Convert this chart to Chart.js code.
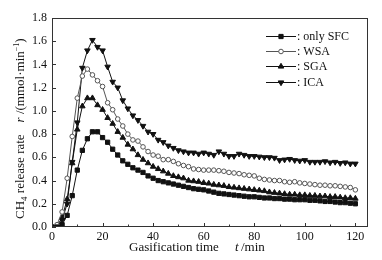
<!DOCTYPE html>
<html lang="en">
<head>
<meta charset="UTF-8" />
<title>CH4 release rate</title>
<script src="https://cdn.jsdelivr.net/npm/chart.js"></script>
<style>
  body { margin: 0; background: #fff; }
  .chart-box { width: 382px; height: 260px; }
</style>
</head>
<body>
<div class="chart-box"><canvas id="myChart"></canvas></div>
<script>
// gasification time (min)
const timeList = [0, 2, 4, 6, 8, 10, 12, 14, 16, 18, 20, 22, 24, 26, 28, 30, 32, 34, 36, 38,
  40, 42, 44, 46, 48, 50, 52, 54, 56, 58, 60, 62, 64, 66, 68, 70, 72, 74, 76, 78,
  80, 82, 84, 86, 88, 90, 92, 94, 96, 98, 100, 102, 104, 106, 108, 110, 112, 114, 116, 118, 120];

const sfcList = [0.0, 0.0, 0.02, 0.10, 0.27, 0.49, 0.66, 0.76, 0.82, 0.82,
  0.77, 0.73, 0.67, 0.62, 0.57, 0.54, 0.51, 0.49, 0.47, 0.44,
  0.42, 0.40, 0.39, 0.38, 0.37, 0.36, 0.35, 0.34, 0.33, 0.325,
  0.32, 0.31, 0.30, 0.29, 0.285, 0.28, 0.275, 0.27, 0.265, 0.26,
  0.26, 0.255, 0.25, 0.25, 0.245, 0.245, 0.24, 0.24, 0.235, 0.235,
  0.235, 0.23, 0.23, 0.225, 0.22, 0.22, 0.215, 0.21, 0.21, 0.205, 0.20];

const wsaList = [0.0, 0.02, 0.13, 0.42, 0.78, 1.11, 1.30, 1.36, 1.31, 1.26,
  1.21, 1.07, 1.01, 0.93, 0.87, 0.80, 0.75, 0.74, 0.69, 0.65,
  0.62, 0.61, 0.58, 0.58, 0.565, 0.545, 0.53, 0.52, 0.50, 0.495,
  0.49, 0.49, 0.49, 0.485, 0.48, 0.47, 0.465, 0.46, 0.45, 0.445,
  0.44, 0.42, 0.41, 0.405, 0.40, 0.40, 0.39, 0.385, 0.39, 0.38,
  0.375, 0.37, 0.365, 0.36, 0.36, 0.355, 0.355, 0.35, 0.345, 0.34, 0.32];

const sgaList = [0.0, 0.01, 0.08, 0.24, 0.55, 0.84, 1.04, 1.11, 1.11, 1.05,
  1.01, 0.94, 0.89, 0.82, 0.77, 0.71, 0.67, 0.62, 0.58, 0.55,
  0.52, 0.50, 0.48, 0.46, 0.44, 0.43, 0.42, 0.40, 0.395, 0.39,
  0.38, 0.375, 0.365, 0.36, 0.355, 0.345, 0.34, 0.335, 0.33, 0.325,
  0.32, 0.315, 0.31, 0.30, 0.295, 0.29, 0.285, 0.28, 0.28, 0.275,
  0.275, 0.27, 0.27, 0.265, 0.265, 0.26, 0.26, 0.255, 0.25, 0.25, 0.245];

const icaList = [0.0, 0.0, 0.06, 0.20, 0.56, 0.90, 1.37, 1.52, 1.61, 1.55,
  1.52, 1.38, 1.25, 1.20, 1.09, 1.02, 0.96, 0.92, 0.87, 0.82,
  0.80, 0.75, 0.73, 0.70, 0.68, 0.66, 0.65, 0.64, 0.64, 0.63,
  0.64, 0.63, 0.62, 0.65, 0.63, 0.61, 0.61, 0.63, 0.62, 0.61,
  0.61, 0.605, 0.60, 0.60, 0.595, 0.575, 0.58, 0.585, 0.575, 0.57,
  0.575, 0.56, 0.56, 0.56, 0.565, 0.555, 0.56, 0.55, 0.555, 0.545, 0.545];

const seriesNames = ["only SFC", "WSA", "SGA", "ICA"];
const xTickList = [0, 10, 20, 30, 40, 50, 60, 70, 80, 90, 100, 110, 120];
const yTickList = [0, 0.2, 0.4, 0.6, 0.8, 1.0, 1.2, 1.4, 1.6, 1.8];

const serif = "'Liberation Serif', 'DejaVu Serif', serif";

const toPoints = function (vals) {
  return vals.map(function (v, i) { return { x: timeList[i], y: v }; });
};

const makeSet = function (name, vals, style, radius, rot, fill, line) {
  return {
    label: name,
    data: toPoints(vals),
    borderColor: line,
    borderWidth: 1,
    backgroundColor: fill,
    pointStyle: style,
    pointRadius: radius,
    pointRotation: rot,
    pointBorderColor: line,
    pointBorderWidth: 1,
    pointBackgroundColor: fill,
    tension: 0,
  };
};

// frame, inward ticks, axis titles and legend
const decor = {
  id: "decor",
  afterDraw(chart) {
    const ctx = chart.ctx;
    const a = chart.chartArea;
    const xs = chart.scales.x;
    const ys = chart.scales.y;
    ctx.save();
    ctx.strokeStyle = "#333";
    ctx.lineWidth = 1;
    ctx.strokeRect(Math.round(a.left) + 0.5, Math.round(a.top) + 0.5,
      Math.round(a.right - a.left) - 1, Math.round(a.bottom - a.top) - 1);
    ctx.beginPath();
    xTickList.forEach(function (v) {
      const px = Math.round(xs.getPixelForValue(v)) + 0.5;
      const len = v % 20 === 0 ? 4 : 2.5;
      ctx.moveTo(px, a.bottom);
      ctx.lineTo(px, a.bottom - len);
    });
    yTickList.forEach(function (v) {
      const py = Math.round(ys.getPixelForValue(v)) + 0.5;
      ctx.moveTo(a.left, py);
      ctx.lineTo(a.left + 4, py);
    });
    ctx.stroke();

    ctx.fillStyle = "#111";
    ctx.textBaseline = "alphabetic";
    ctx.textAlign = "left";
    // x title
    ctx.font = "13px " + serif;
    ctx.fillText("Gasification time", 129, 251);
    ctx.font = "italic 13px " + serif;
    ctx.fillText("t", 235, 251);
    ctx.font = "13px " + serif;
    ctx.fillText("/min", 241, 251);

    // y title (rotated)
    ctx.translate(24, 219);
    ctx.rotate(-Math.PI / 2);
    let cx = 0;
    const put = function (txt, font, dy) {
      ctx.font = font;
      ctx.fillText(txt, cx, dy);
      cx += ctx.measureText(txt).width;
    };
    put("CH", "13px " + serif, 0);
    put("4", "9px " + serif, 3);
    put(" release rate", "13px " + serif, 0);
    cx += 12;
    put("r", "italic 13px " + serif, 0);
    put(" /(mmol·min", "13px " + serif, 0);
    put("−1", "8px " + serif, -5);
    put(")", "13px " + serif, 0);
    ctx.setTransform(1, 0, 0, 1, 0, 0);

    // legend
    chart.data.datasets.forEach(function (ds, i) {
      const y = Math.round(36 + i * 15.2) + 0.5;
      ctx.strokeStyle = ds.borderColor;
      ctx.lineWidth = 1;
      ctx.beginPath();
      ctx.moveTo(266, y);
      ctx.lineTo(296, y);
      ctx.stroke();
      ctx.fillStyle = ds.pointBackgroundColor;
      ctx.strokeStyle = ds.pointBorderColor;
      Chart.helpers.drawPoint(ctx, {
        pointStyle: ds.pointStyle,
        radius: ds.pointRadius,
        rotation: ds.pointRotation,
        borderWidth: 1,
      }, 281, y);
      ctx.fillStyle = "#111";
      ctx.font = "12px " + serif;
      ctx.textBaseline = "middle";
      ctx.fillText(": " + ds.label, 297, y);
    });
    ctx.restore();
  },
};

const ctx = document.getElementById("myChart");
const myChart = new Chart(ctx, {
  type: "line",
  data: {
    datasets: [
      makeSet(seriesNames[0], sfcList, "rect", 3, 0, "#111", "#111"),
      makeSet(seriesNames[1], wsaList, "circle", 2.3, 0, "#fff", "#555"),
      makeSet(seriesNames[2], sgaList, "triangle", 3.2, 0, "#111", "#111"),
      makeSet(seriesNames[3], icaList, "triangle", 3.2, 180, "#111", "#111"),
    ],
  },
  options: {
    responsive: true,
    maintainAspectRatio: false,
    animation: false,
    layout: { padding: { left: 0, top: 18, right: 14, bottom: 0 } },
    plugins: {
      legend: { display: false },
      tooltip: { enabled: false },
    },
    scales: {
      x: {
        type: "linear",
        min: 0,
        max: 125,
        grid: { display: false, drawTicks: false },
        border: { display: false },
        afterBuildTicks: function (scale) {
          scale.ticks = xTickList.map(function (v) { return { value: v }; });
        },
        afterFit: function (scale) { scale.height = 33; },
        ticks: {
          autoSkip: false,
          maxRotation: 0,
          padding: 3,
          color: "#111",
          font: { family: serif, size: 12 },
          callback: function (v) { return v % 20 === 0 ? String(v) : ""; },
        },
      },
      y: {
        min: 0,
        max: 1.8,
        grid: { display: false, drawTicks: false },
        border: { display: false },
        afterBuildTicks: function (scale) {
          scale.ticks = yTickList.map(function (v) { return { value: v }; });
        },
        afterFit: function (scale) { scale.width = 52; },
        ticks: {
          padding: 5,
          color: "#111",
          font: { family: serif, size: 12 },
          callback: function (v) { return Number(v).toFixed(1); },
        },
      },
    },
  },
  plugins: [decor],
});
</script>
</body>
</html>
